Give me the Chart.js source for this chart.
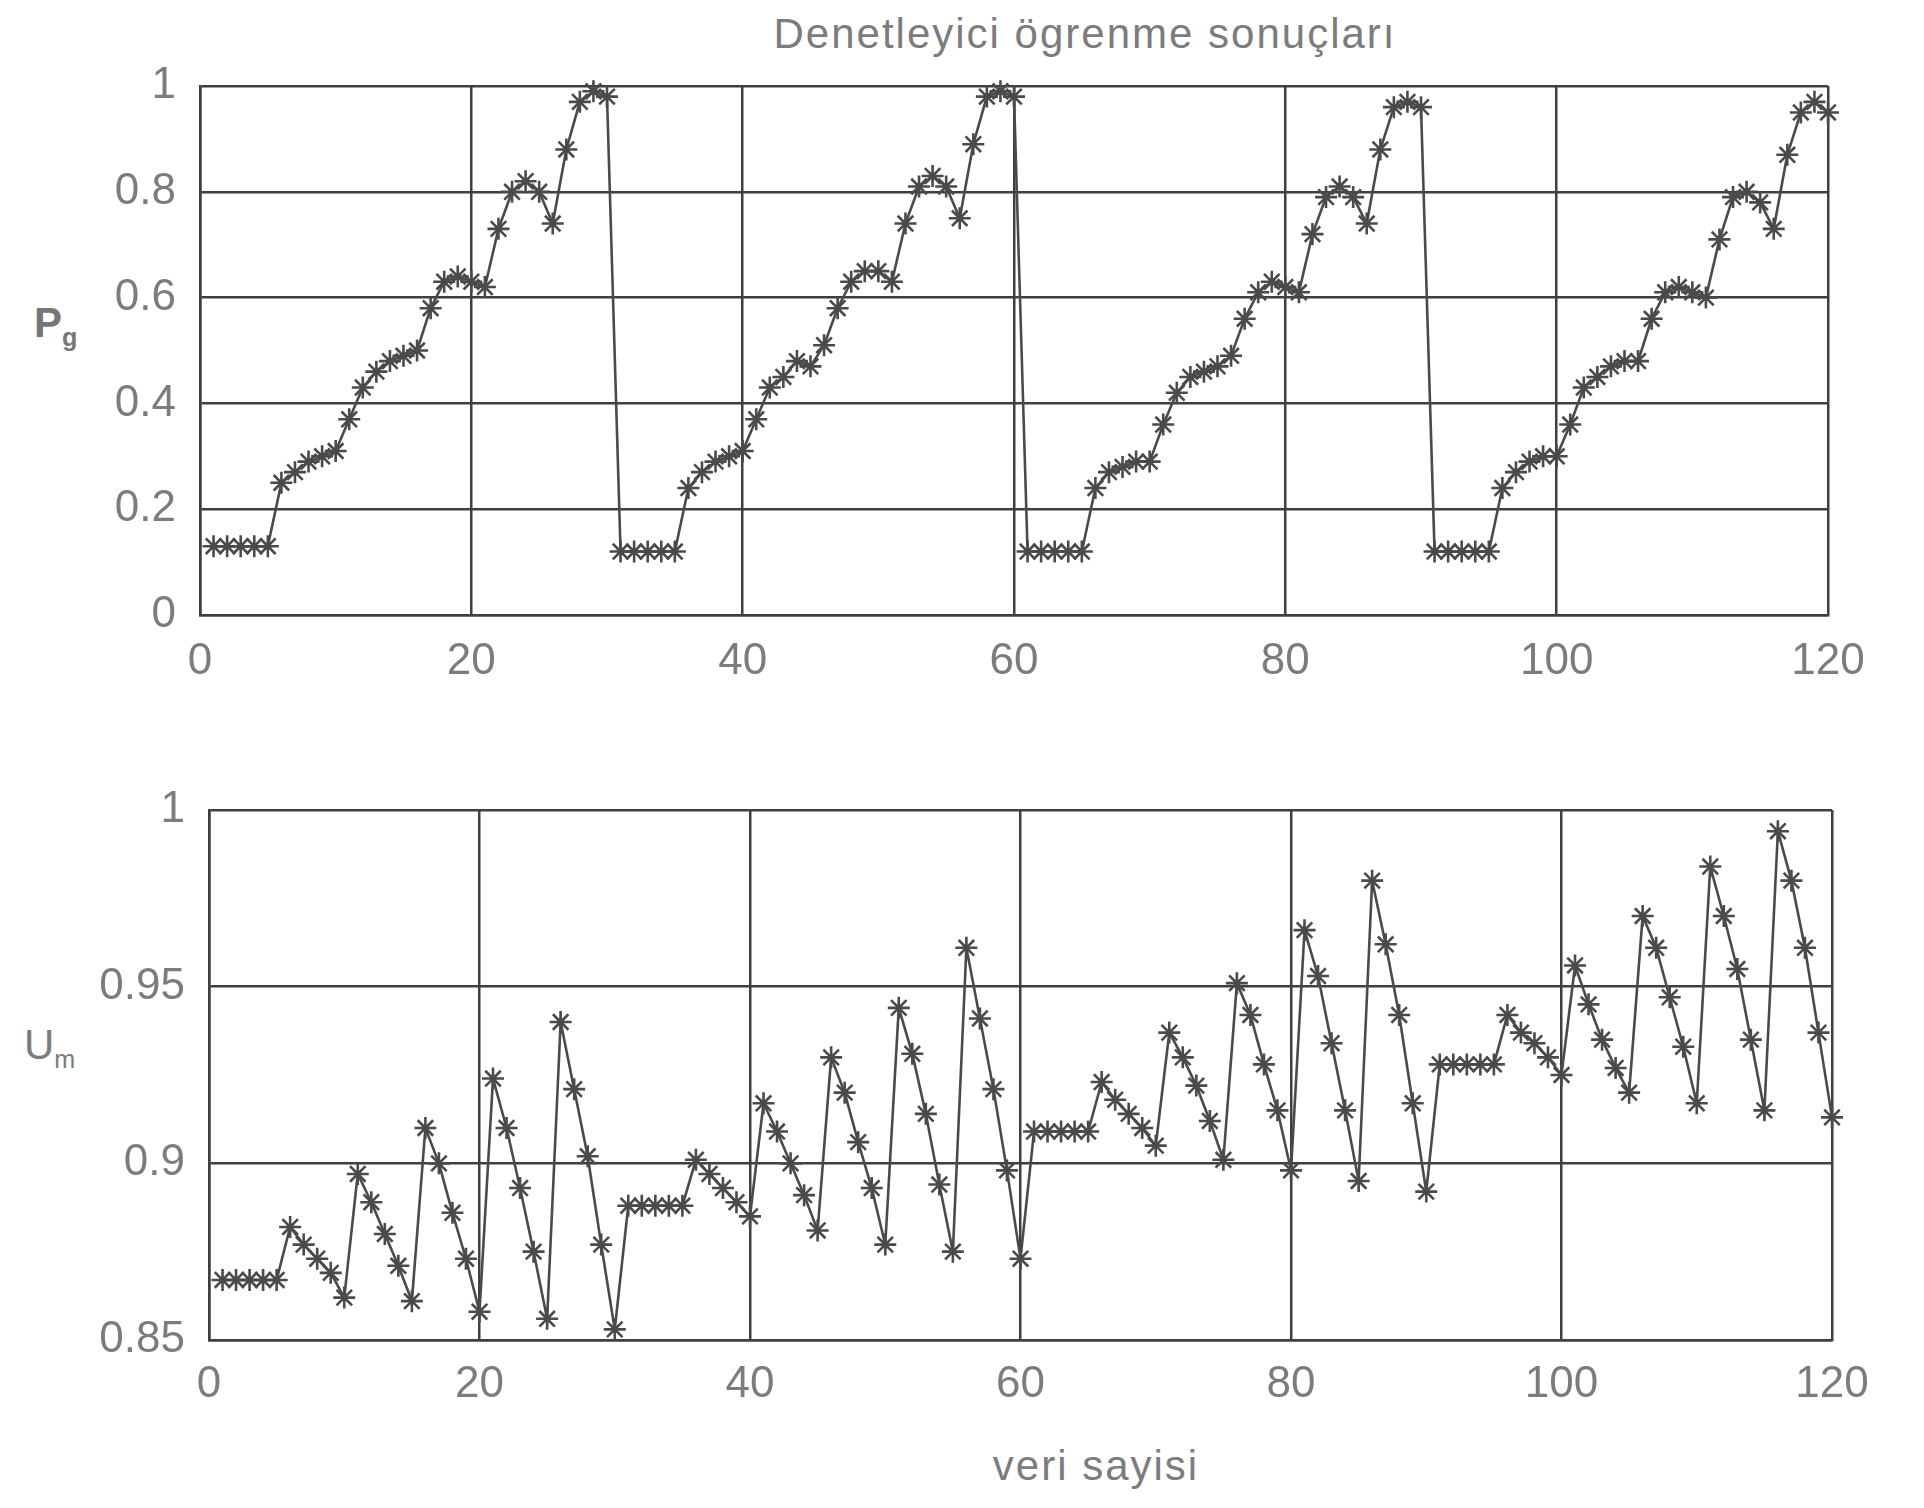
<!DOCTYPE html>
<html>
<head>
<meta charset="utf-8">
<script src="https://cdn.jsdelivr.net/npm/chart.js@4.4.0/dist/chart.umd.min.js"></script>
<style>
  body { margin: 0; background: #fff; width: 1924px; height: 1508px; position: relative; overflow: hidden;
         font-family: "Liberation Sans", Arial, sans-serif; }
  canvas { position: absolute; left: 0; }
  #pgChart { top: 0; }
  #umChart { top: 720px; }
  .lbl { position: absolute; color: #7c7c7c; white-space: nowrap; line-height: 1; }
  #title { left: 1085px; top: 34px; transform: translate(-50%, -50%); font-size: 42px; letter-spacing: 2px; }
  #xlabel { left: 1096px; top: 1466px; transform: translate(-50%, -50%); font-size: 42px; letter-spacing: 2px; }
  #pgLabel { left: 34px; top: 302px; font-size: 42px; font-weight: bold; color: #767676; }
  #umLabel { left: 24px; top: 1024px; font-size: 42px; }
  .lbl sub { font-size: 60%; vertical-align: -0.35em; }
</style>
</head>
<body>
<div class="lbl" id="title">Denetleyici ögrenme sonuçları</div>
<div class="lbl" id="pgLabel">P<sub>g</sub></div>
<div class="lbl" id="umLabel">U<sub>m</sub></div>
<div class="lbl" id="xlabel">veri sayisi</div>
<canvas id="pgChart" width="1924" height="720"></canvas>
<canvas id="umChart" width="1924" height="788"></canvas>
<script>
// sample index 1..120
const xIndex = Array.from({ length: 120 }, (_, i) => i + 1);
const xTicks = [0, 20, 40, 60, 80, 100, 120];

// upper panel: P_g
const pgValues = [
  0.13, 0.13, 0.13, 0.13, 0.13, 0.25, 0.27, 0.29, 0.30, 0.31,
  0.37, 0.43, 0.46, 0.48, 0.49, 0.50, 0.58, 0.63, 0.64, 0.63,
  0.62, 0.73, 0.80, 0.82, 0.80, 0.74, 0.88, 0.97, 0.99, 0.98,
  0.12, 0.12, 0.12, 0.12, 0.12, 0.24, 0.27, 0.29, 0.30, 0.31,
  0.37, 0.43, 0.45, 0.48, 0.47, 0.51, 0.58, 0.63, 0.65, 0.65,
  0.63, 0.74, 0.81, 0.83, 0.81, 0.75, 0.89, 0.98, 0.99, 0.98,
  0.12, 0.12, 0.12, 0.12, 0.12, 0.24, 0.27, 0.28, 0.29, 0.29,
  0.36, 0.42, 0.45, 0.46, 0.47, 0.49, 0.56, 0.61, 0.63, 0.62,
  0.61, 0.72, 0.79, 0.81, 0.79, 0.74, 0.88, 0.96, 0.97, 0.96,
  0.12, 0.12, 0.12, 0.12, 0.12, 0.24, 0.27, 0.29, 0.30, 0.30,
  0.36, 0.43, 0.45, 0.47, 0.48, 0.48, 0.56, 0.61, 0.62, 0.61,
  0.60, 0.71, 0.79, 0.80, 0.78, 0.73, 0.87, 0.95, 0.97, 0.95
];
const pgTicks = [0, 0.2, 0.4, 0.6, 0.8, 1];

// lower panel: U_m
const umValues = [
  0.867, 0.867, 0.867, 0.867, 0.867, 0.882, 0.877, 0.873, 0.869, 0.862,
  0.897, 0.889, 0.880, 0.871, 0.861, 0.910, 0.900, 0.886, 0.873, 0.858,
  0.924, 0.910, 0.893, 0.875, 0.856, 0.940, 0.921, 0.902, 0.877, 0.853,
  0.888, 0.888, 0.888, 0.888, 0.888, 0.901, 0.897, 0.893, 0.889, 0.885,
  0.917, 0.909, 0.900, 0.891, 0.881, 0.930, 0.920, 0.906, 0.893, 0.877,
  0.944, 0.931, 0.914, 0.894, 0.875, 0.961, 0.941, 0.921, 0.898, 0.873,
  0.909, 0.909, 0.909, 0.909, 0.909, 0.923, 0.918, 0.914, 0.910, 0.905,
  0.937, 0.930, 0.922, 0.912, 0.901, 0.951, 0.942, 0.928, 0.915, 0.898,
  0.966, 0.953, 0.934, 0.915, 0.895, 0.980, 0.962, 0.942, 0.917, 0.892,
  0.928, 0.928, 0.928, 0.928, 0.928, 0.942, 0.937, 0.934, 0.930, 0.925,
  0.956, 0.945, 0.935, 0.927, 0.920, 0.970, 0.961, 0.947, 0.933, 0.917,
  0.984, 0.970, 0.955, 0.935, 0.915, 0.994, 0.980, 0.961, 0.937, 0.913
];
const umTicks = [0.85, 0.9, 0.95, 1];

const inkColor = '#4a4a4a';
const gridColor = '#3f3f3f';
const textColor = '#7c7c7c';
const tickFont = { family: '"Liberation Sans", Arial, sans-serif', size: 44 };

function makeChart(id, values, yTicks, box) {
  const points = values.map((v, i) => ({ x: xIndex[i], y: v }));
  return new Chart(document.getElementById(id), {
    type: 'line',
    data: {
      datasets: [{
        data: points,
        borderColor: inkColor,
        borderWidth: 2.6,
        tension: 0,
        fill: false,
        clip: 16,
        pointStyle: 'star',
        pointRadius: 11,
        pointBorderColor: inkColor,
        pointBorderWidth: 2.6,
        pointBackgroundColor: inkColor
      }]
    },
    options: {
      responsive: false,
      animation: false,
      events: [],
      layout: { padding: { top: box.top, right: box.right, left: 0, bottom: 0 } },
      plugins: { legend: { display: false }, tooltip: { enabled: false } },
      scales: {
        x: {
          type: 'linear',
          min: 0,
          max: 120,
          afterBuildTicks: s => { s.ticks = xTicks.map(v => ({ value: v })); },
          afterFit: s => { s.height = box.xh; },
          grid: { color: gridColor, lineWidth: 2.5, drawTicks: false },
          border: { color: gridColor, width: 2.5 },
          ticks: { font: tickFont, color: textColor, padding: box.xpad, maxRotation: 0, callback: v => String(v) }
        },
        y: {
          type: 'linear',
          min: yTicks[0],
          max: yTicks[yTicks.length - 1],
          afterBuildTicks: s => { s.ticks = yTicks.map(v => ({ value: v })); },
          afterFit: s => { s.width = box.left; },
          grid: { color: gridColor, lineWidth: 2.5, drawTicks: false },
          border: { color: gridColor, width: 2.5 },
          ticks: { font: tickFont, color: textColor, padding: 24, callback: v => String(v) }
        }
      }
    }
  });
}

makeChart('pgChart', pgValues, pgTicks, { top: 86, right: 96, left: 200, xh: 105, xpad: 20 });
makeChart('umChart', umValues, umTicks, { top: 90, right: 92, left: 209, xh: 168, xpad: 18 });
</script>
</body>
</html>
